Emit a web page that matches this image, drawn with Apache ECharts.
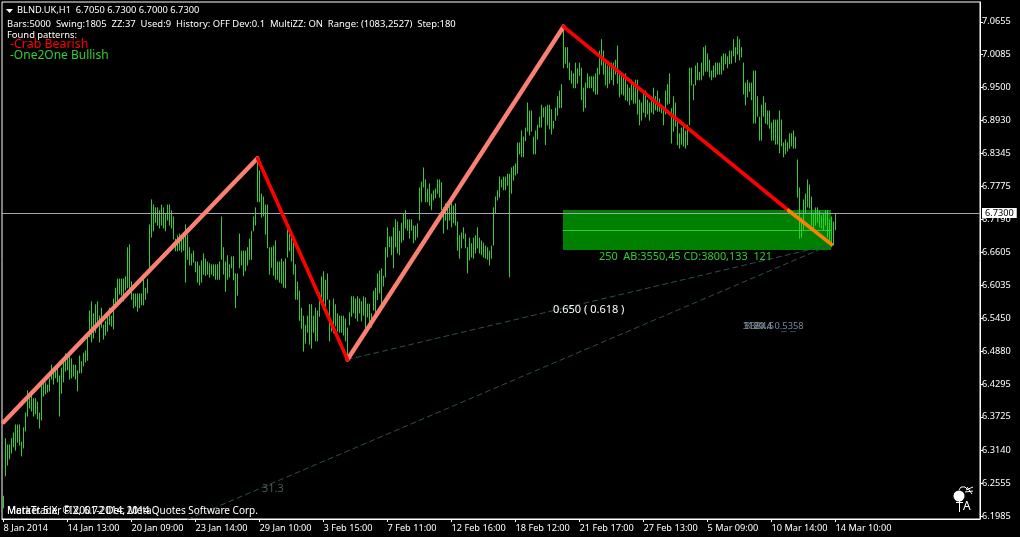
<!DOCTYPE html>
<html><head><meta charset="utf-8">
<style>html,body{margin:0;padding:0;background:#000}#c{width:1020px;height:537px}</style>
<script src="https://cdn.jsdelivr.net/npm/echarts@6/dist/echarts.min.js"></script>
</head><body><div id="c"></div>
<script>
const tickLabels=['8 Jan 2014','14 Jan 13:00','20 Jan 09:00','23 Jan 14:00','29 Jan 10:00','3 Feb 15:00','7 Feb 11:00','12 Feb 16:00','18 Feb 12:00','21 Feb 17:00','27 Feb 13:00','5 Mar 09:00','10 Mar 14:00','14 Mar 10:00'];
const priceTicks=[7.0655,7.0085,6.95,6.893,6.8345,6.7775,6.719,6.6605,6.6035,6.545,6.488,6.4295,6.3725,6.314,6.2555,6.1985];
const highs=[
6.234,6.335,6.324,6.324,6.335,6.345,6.359,6.359,6.359,6.329,
6.354,6.380,6.419,6.405,6.415,6.405,6.405,6.399,6.380,6.436,
6.440,6.433,6.429,6.440,6.464,6.454,6.457,6.457,6.445,6.459,
6.475,6.484,6.482,6.484,6.475,6.464,6.464,6.454,6.480,6.470,
6.485,6.489,6.519,6.559,6.575,6.554,6.570,6.575,6.550,6.564,
6.534,6.541,6.556,6.564,6.550,6.580,6.599,6.615,6.615,6.615,
6.615,6.619,6.670,6.675,6.610,6.589,6.589,6.589,6.589,6.589,
6.622,6.599,6.615,6.710,6.754,6.745,6.740,6.740,6.735,6.745,
6.740,6.729,6.745,6.745,6.735,6.724,6.685,6.691,6.694,6.685,
6.691,6.710,6.692,6.670,6.659,6.664,6.645,6.645,6.638,6.647,
6.659,6.650,6.645,6.642,6.640,6.640,6.640,6.640,6.645,6.724,
6.670,6.645,6.656,6.640,6.654,6.654,6.624,6.624,6.694,6.664,
6.664,6.664,6.670,6.685,6.699,6.724,6.740,6.822,6.805,6.764,
6.759,6.745,6.745,6.670,6.670,6.673,6.682,6.645,6.645,6.650,
6.645,6.650,6.701,6.694,6.694,6.682,6.640,6.610,6.594,6.564,
6.550,6.534,6.550,6.570,6.570,6.550,6.564,6.559,6.591,6.619,
6.628,6.613,6.624,6.578,6.541,6.580,6.570,6.554,6.550,6.550,
6.550,6.545,6.529,6.556,6.584,6.584,6.580,6.584,6.580,6.575,
6.584,6.582,6.571,6.571,6.554,6.594,6.599,6.624,6.629,6.633,
6.620,6.670,6.705,6.689,6.689,6.705,6.719,6.715,6.699,6.713,
6.729,6.735,6.719,6.719,6.719,6.708,6.708,6.712,6.775,6.785,
6.810,6.789,6.773,6.782,6.764,6.770,6.773,6.789,6.789,6.784,
6.740,6.747,6.738,6.743,6.747,6.743,6.747,6.715,6.691,6.696,
6.705,6.694,6.670,6.687,6.677,6.687,6.691,6.705,6.687,6.682,
6.678,6.673,6.670,6.664,6.673,6.740,6.759,6.770,6.794,6.789,
6.794,6.794,6.799,6.799,6.810,6.813,6.817,6.854,6.854,6.875,
6.864,6.880,6.924,6.910,6.910,6.864,6.875,6.885,6.899,6.920,
6.915,6.917,6.920,6.920,6.912,6.892,6.915,6.935,6.945,6.956,
7.057,7.021,7.021,6.994,6.980,6.975,6.994,6.984,6.994,6.985,
6.950,6.959,6.975,6.970,6.970,6.970,6.975,6.985,7.015,7.035,
7.015,6.996,6.989,6.994,6.994,6.994,6.999,7.024,6.980,6.975,
6.971,6.975,6.956,6.950,6.964,6.954,6.964,6.964,6.929,6.924,
6.940,6.945,6.929,6.924,6.931,6.950,6.935,6.945,6.931,6.920,
6.914,6.945,6.956,6.975,6.914,6.935,6.924,6.896,6.870,6.880,
6.889,6.875,6.885,6.985,6.985,6.956,6.989,6.994,6.978,6.994,
7.021,7.024,7.010,6.999,6.980,6.989,6.994,6.994,6.994,7.005,
7.010,7.010,7.005,7.015,7.015,7.035,7.021,7.040,7.035,7.021,
6.994,6.959,6.964,6.959,6.959,6.980,6.980,6.935,6.899,6.920,
6.935,6.924,6.910,6.910,6.889,6.894,6.894,6.894,6.910,6.894,
6.854,6.859,6.854,6.870,6.870,6.875,6.864,6.824,6.775,6.722,
6.754,6.764,6.789,6.780,6.759,6.729,6.740,6.740,6.735,6.726,
6.729,6.735,6.735,6.719,6.724,6.715,6.730];
const lows=[
6.212,6.268,6.287,6.298,6.308,6.319,6.313,6.327,6.322,6.303,
6.317,6.347,6.373,6.387,6.382,6.373,6.377,6.368,6.352,6.366,
6.408,6.412,6.415,6.417,6.438,6.429,6.440,6.433,6.373,6.413,
6.433,6.452,6.454,6.438,6.440,6.443,6.438,6.417,6.449,6.449,
6.461,6.468,6.471,6.512,6.503,6.510,6.520,6.533,6.503,6.529,
6.508,6.515,6.522,6.534,6.531,6.526,6.566,6.566,6.587,6.585,
6.575,6.594,6.598,6.589,6.578,6.563,6.566,6.557,6.563,6.568,
6.568,6.578,6.589,6.629,6.687,6.698,6.713,6.708,6.703,6.708,
6.703,6.698,6.717,6.708,6.703,6.684,6.663,6.663,6.664,6.661,
6.664,6.608,6.648,6.638,6.638,6.643,6.626,6.608,6.603,6.608,
6.622,6.620,6.622,6.617,6.622,6.619,6.613,6.613,6.613,6.648,
6.622,6.592,6.613,6.617,6.633,6.612,6.563,6.585,6.633,6.638,
6.619,6.628,6.638,6.648,6.648,6.698,6.708,6.749,6.749,6.722,
6.724,6.692,6.668,6.622,6.634,6.620,6.613,6.613,6.608,6.606,
6.599,6.598,6.652,6.663,6.645,6.622,6.578,6.578,6.541,6.527,
6.487,6.501,6.520,6.499,6.492,6.520,6.505,6.505,6.548,6.570,
6.559,6.559,6.578,6.505,6.522,6.519,6.531,6.522,6.520,6.520,
6.515,6.505,6.473,6.533,6.548,6.554,6.545,6.540,6.554,6.540,
6.550,6.515,6.547,6.533,6.529,6.559,6.550,6.577,6.589,6.564,
6.601,6.617,6.652,6.670,6.656,6.633,6.670,6.659,6.656,6.678,
6.682,6.703,6.699,6.685,6.699,6.677,6.682,6.687,6.717,6.749,
6.775,6.749,6.749,6.743,6.735,6.752,6.756,6.764,6.757,6.735,
6.694,6.717,6.701,6.717,6.705,6.712,6.708,6.664,6.650,6.668,
6.685,6.668,6.624,6.647,6.652,6.650,6.659,6.668,6.659,6.656,
6.652,6.650,6.648,6.638,6.650,6.673,6.729,6.752,6.757,6.775,
6.770,6.770,6.778,6.617,6.764,6.787,6.796,6.799,6.833,6.828,
6.828,6.856,6.873,6.866,6.873,6.833,6.833,6.859,6.880,6.880,
6.898,6.849,6.884,6.877,6.868,6.878,6.892,6.901,6.914,6.914,
6.984,6.992,6.984,6.963,6.957,6.949,6.949,6.957,6.971,6.928,
6.908,6.914,6.949,6.949,6.949,6.943,6.938,6.938,6.973,6.989,
6.973,6.954,6.949,6.957,6.963,6.954,6.973,6.957,6.933,6.938,
6.936,6.928,6.926,6.919,6.928,6.922,6.922,6.903,6.884,6.892,
6.906,6.898,6.903,6.892,6.906,6.903,6.910,6.908,6.908,6.905,
6.884,6.903,6.920,6.922,6.852,6.873,6.882,6.849,6.843,6.850,
6.847,6.843,6.849,6.884,6.954,6.928,6.954,6.963,6.963,6.963,
6.971,6.978,6.978,6.968,6.963,6.968,6.968,6.973,6.973,6.973,
6.980,6.991,6.984,6.991,6.992,7.005,6.994,7.008,6.998,7.003,
6.938,6.919,6.933,6.943,6.928,6.887,6.887,6.899,6.857,6.857,
6.899,6.887,6.885,6.878,6.857,6.857,6.850,6.850,6.835,6.847,
6.828,6.833,6.838,6.843,6.847,6.843,6.843,6.757,6.685,6.687,
6.699,6.729,6.740,6.738,6.708,6.703,6.708,6.713,6.705,6.703,
6.699,6.708,6.687,6.673,6.670,6.673,6.700];
const barIndex=highs.map((_,i)=>i);
const salmonLegs=[[[0,6.363],[127,6.826]],[[172,6.473],[280,7.057]]];
const redLegs=[[[127,6.826],[172,6.473]],[[280,7.057],[392.5,6.7345]]];
const orangeLeg=[[392.5,6.7345],[414,6.675]];
const thinLines=[[[172,6.473],[414,6.675]],[[92,6.1925],[414,6.675]],[[389,6.522],[398,6.522]]];
const zone={from:279.75,to:413.75,top:6.7354,bottom:6.6652,mid:6.6994};
const lastPrice=6.73;

const FONT='"Noto Sans"';
const lineSeries=(data,color,width,z,type)=>({type:'line',data,symbol:'none',silent:true,z,animation:false,
  lineStyle:{color,width,type:type||'solid',cap:'round',join:'round'}});
const series=[
 {type:'custom',z:1,silent:true,data:[[zone.from,zone.to,zone.top,zone.bottom]],encode:{x:[0,1],y:[2,3]},
  renderItem:(p,api)=>{const a=api.coord([api.value(0),api.value(2)]),b=api.coord([api.value(1),api.value(3)]);
   return {type:'rect',shape:{x:a[0],y:a[1],width:b[0]-a[0],height:b[1]-a[1]},style:{fill:'#008000'}};}},
 lineSeries([[zone.from,zone.mid],[zone.to,zone.mid]],'#32CD32',1,2),
 {type:'custom',z:3,silent:true,clip:true,data:barIndex.map(i=>[i,lows[i],highs[i]]),encode:{x:0,y:[1,2]},
  renderItem:(p,api)=>{const a=api.coord([api.value(0),api.value(1)]),b=api.coord([api.value(0),api.value(2)]);
   return {type:'line',shape:{x1:a[0],y1:a[1],x2:b[0],y2:b[1]},style:{stroke:'#32CD32',lineWidth:1}};}},
 ...thinLines.map(d=>lineSeries(d,'#2F4F4F',1,4,[5,4])),
 {...lineSeries([[0,lastPrice],[1,lastPrice]],'#000',0,5),
  markLine:{silent:true,symbol:'none',animation:false,data:[{yAxis:lastPrice}],
   lineStyle:{color:'#A0A4B0',width:1,type:'solid'},
   label:{position:'end',formatter:lastPrice.toFixed(4),color:'#000',backgroundColor:'#fff',fontFamily:FONT,fontSize:9.2,padding:[0,3,0,3],distance:2,lineHeight:10}}},
 ...salmonLegs.map(d=>lineSeries(d,'#FA8072',4.4,6)),
 ...redLegs.map(d=>lineSeries(d,'#FF0000',3.6,7)),
 lineSeries(orangeLeg,'#FF8000',3.6,8),
];
const T=(x,y,text,fill,size,extra)=>({type:'text',x,y,z:20,silent:true,style:Object.assign({text,fill,font:`${size}px ${FONT}`,textVerticalAlign:'middle'},extra||{})});
const graphic=[
 {type:'polygon',z:20,silent:true,shape:{points:[[6,9],[13,9],[9.5,13]]},style:{fill:'#fff'}},
 T(17,10.5,'BLND.UK,H1  6.7050 6.7300 6.7000 6.7300','#fff',9.3),
 T(7,24,'Bars:5000  Swing:1805  ZZ:37  Used:9  History: OFF Dev:0.1  MultiZZ: ON  Range: (1083,2527)  Step:180','#fff',9.45),
 T(7,35.5,'Found patterns:','#fff',9.4),
 T(10,44,'-Crab Bearish','#FF0000',12.4),
 T(10,56,'-One2One Bullish','#32CD32',12),
 T(599,257,'250  AB:3550,45 CD:3800,133  121','#32CD32',10.9),
 T(553,310,'0.650 ( 0.618 )','#fff',11),
 T(262,489,'31.3','#4A5858',11),
 T(743,326.5,'3121.4','#778899',9.3),
 T(745,326.5,'3384.5','#778899',9.3),
 T(743,326.5,'1180.4 0.5358','#778899',9.3),
 T(7,511,'MetaTrader FIX, 6.72 Dec 2014','#fff',10),
 T(7,511,'Market 5.X, © 2001-2014, MetaQuotes Software Corp.','#fff',10),
 {type:'circle',z:20,silent:true,shape:{cx:959,cy:496,r:5.5},style:{fill:'#fff'}},
 {type:'line',z:20,silent:true,shape:{x1:959.5,y1:501,x2:959.5,y2:512},style:{stroke:'#fff',lineWidth:1}},
 {type:'line',z:20,silent:true,shape:{x1:956,y1:502.5,x2:963,y2:502.5},style:{stroke:'#fff',lineWidth:1}},
 {type:'polyline',z:20,silent:true,shape:{points:[[959,490],[961,487],[965,487],[968,490]]},style:{stroke:'#fff',fill:null,lineWidth:1}},
 {type:'line',z:20,silent:true,shape:{x1:966,y1:490,x2:973,y2:487},style:{stroke:'#fff',lineWidth:1}},
 {type:'line',z:20,silent:true,shape:{x1:967,y1:487,x2:972,y2:494},style:{stroke:'#fff',lineWidth:1}},
 {type:'line',z:20,silent:true,shape:{x1:965,y1:492,x2:973,y2:491},style:{stroke:'#fff',lineWidth:1}},
 T(963,507,'A','#fff',12),
];
const chart=echarts.init(document.getElementById('c'),null,{renderer:'canvas'});
chart.setOption({
 animation:false,backgroundColor:'#000',
 grid:{left:2,top:2,right:40,bottom:18,show:true,backgroundColor:'#000',borderColor:'#fff',borderWidth:1},
 xAxis:{type:'value',min:-0.75,max:488.25,splitLine:{show:false},
  axisLine:{show:true,onZero:false,lineStyle:{color:'#fff',width:1}},
  axisTick:{show:true,length:3,lineStyle:{color:'#fff',width:1},customValues:tickLabels.map((_,i)=>i*32)},
  axisLabel:{customValues:tickLabels.map((_,i)=>i*32),formatter:v=>tickLabels[Math.round(v/32)]||'',color:'#fff',fontFamily:FONT,fontSize:9.2,align:'left',margin:5,showMinLabel:true,showMaxLabel:true,hideOverlap:false}},
 yAxis:{type:'value',position:'right',min:6.19322,max:7.10031,splitLine:{show:false},
  axisLine:{show:true,onZero:false,lineStyle:{color:'#fff',width:1}},
  axisTick:{show:true,length:3,lineStyle:{color:'#fff',width:1},customValues:priceTicks},
  axisLabel:{customValues:priceTicks,formatter:v=>v.toFixed(4),color:'#fff',fontFamily:FONT,fontSize:9.2,margin:2,hideOverlap:false}},
 series,graphic
});
</script></body></html>
